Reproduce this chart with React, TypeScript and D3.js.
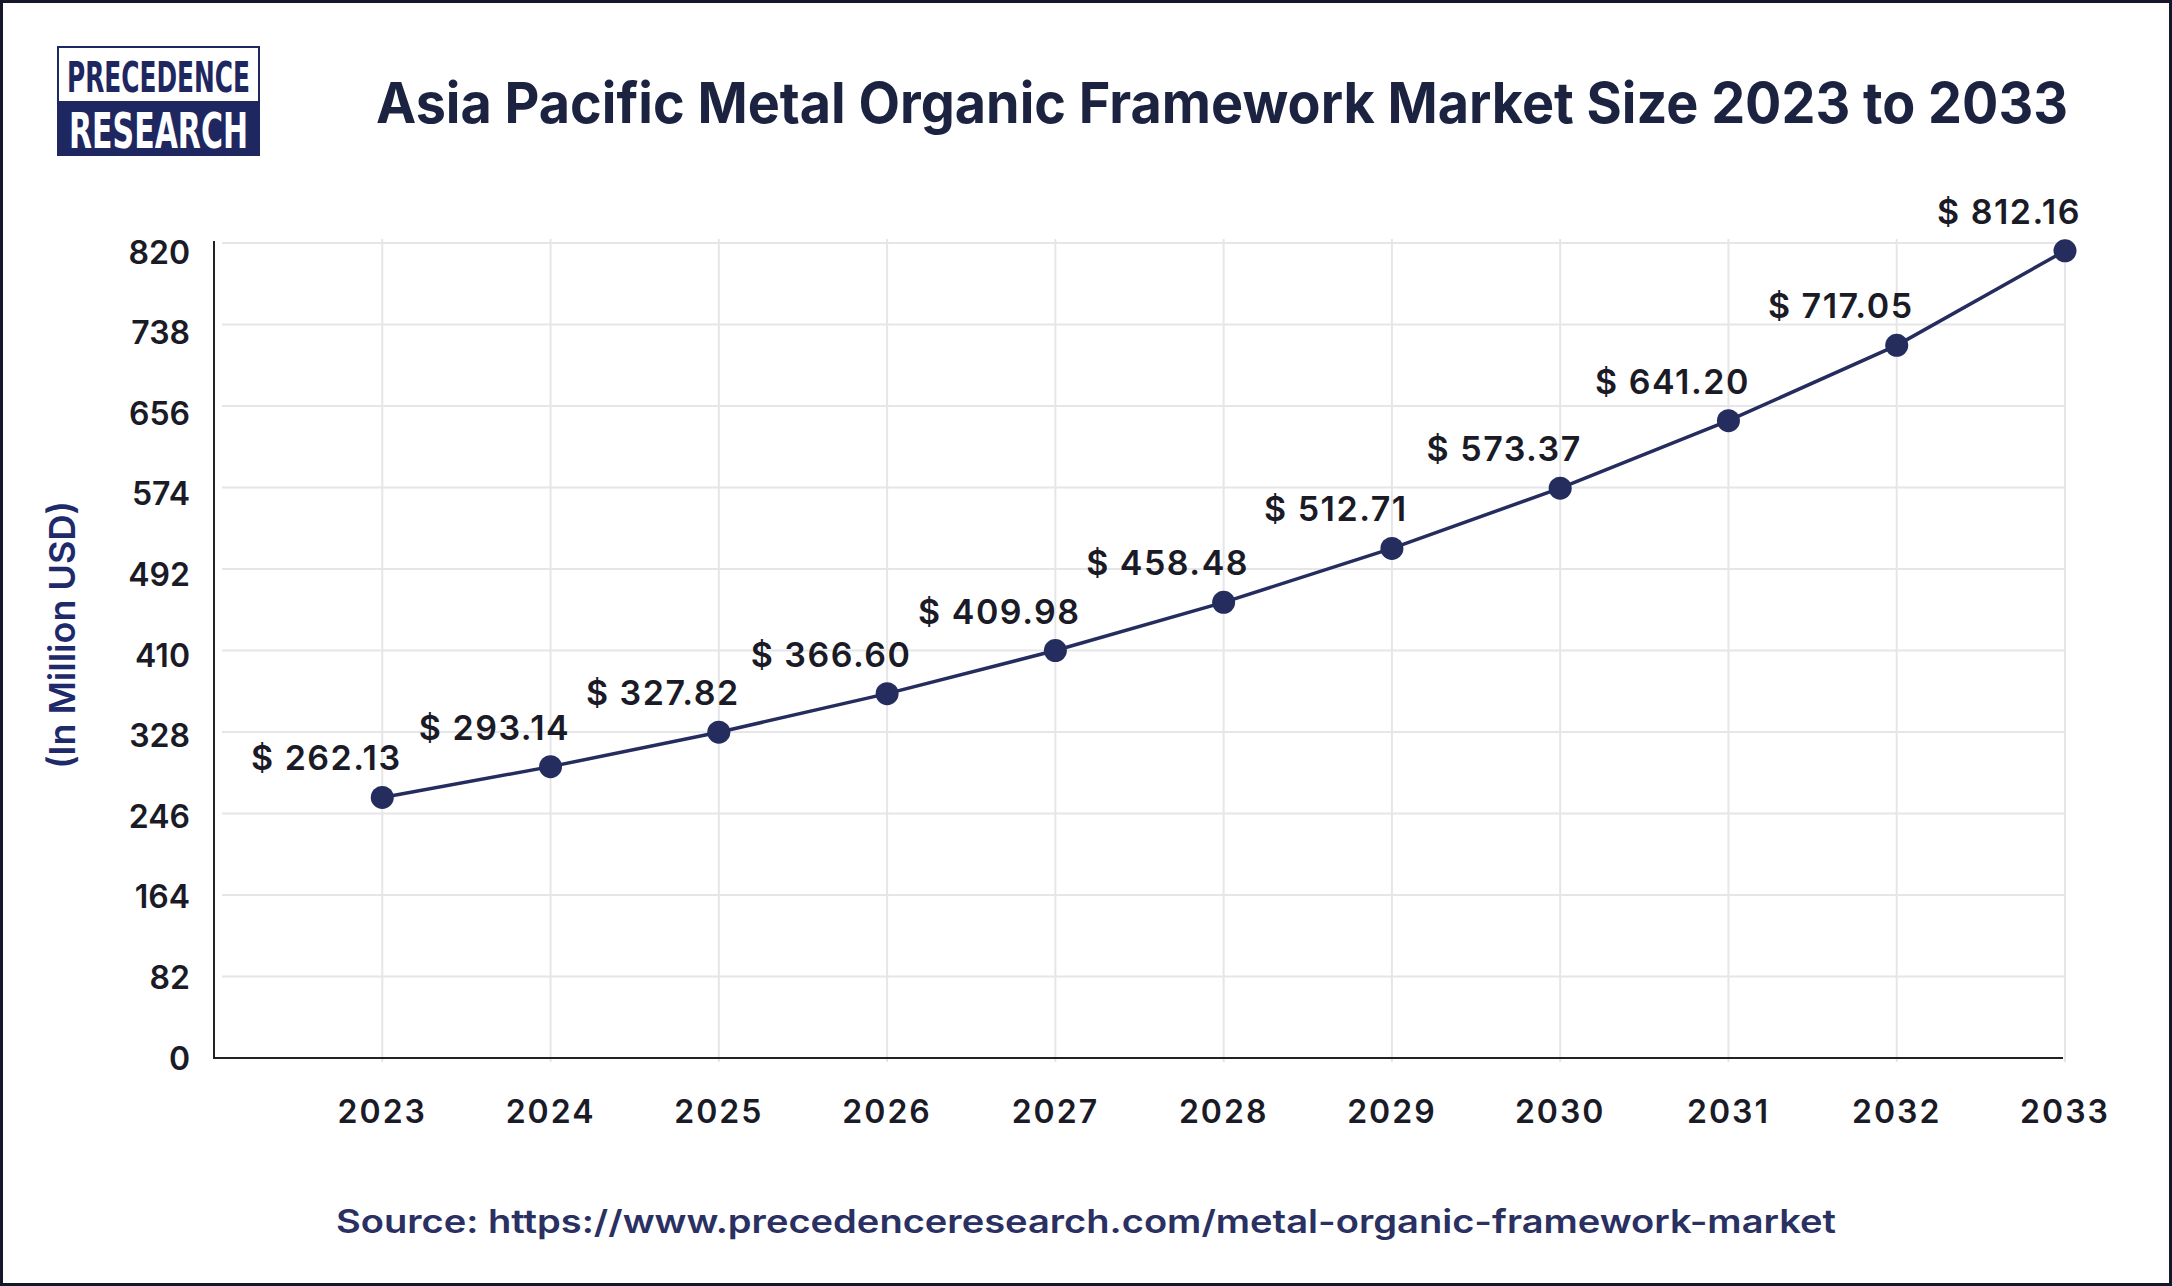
import * as d3 from "d3";

const years = [2023, 2024, 2025, 2026, 2027, 2028, 2029, 2030, 2031, 2032, 2033];
const marketSize = [262.13, 293.14, 327.82, 366.6, 409.98, 458.48, 512.71, 573.37, 641.2, 717.05, 812.16];
const yTicks = [0, 82, 164, 246, 328, 410, 492, 574, 656, 738, 820];

const W = 2172;
const H = 1286;
const FONT = "Inter, 'Noto Sans', sans-serif";
const NAVY = "#252c5e";
const INK = "#1a1b26";
const LOGO_FONT = "'DejaVu Sans Condensed', 'Liberation Sans Narrow', sans-serif";

const App = () => {
  const left = 214; // y axis position
  const right = 2065;
  const top = 243;
  const bottom = 1058;

  // one empty slot before 2023, like the original
  const x = d3.scaleLinear().domain([2022, 2033]).range([left, right]);
  const y = d3.scaleLinear().domain([0, 820]).range([bottom, top]);
  // tick labels sit a touch lower than their gridlines near the top
  const yLabel = d3.scaleLinear().domain([0, 820]).range([bottom, top + 9]);

  const line = d3
    .line<number>()
    .x((_, i) => x(years[i]))
    .y((d) => y(d));

  return (
    <>
      <style>{`body{margin:0}`}</style>
      <svg width={W} height={H} style={{ display: "block", fontFamily: FONT }}>
        <rect x={0} y={0} width={W} height={H} fill="#fff" />
        <rect x={1.5} y={1.5} width={W - 3} height={H - 3} fill="none" stroke="#15172a" strokeWidth={3} />

        {/* logo */}
        <g>
          <rect x={58} y={47} width={201} height={108} fill="#fff" stroke="#1f2761" strokeWidth={2} />
          <rect x={58} y={101} width={201} height={54} fill="#1f2761" />
          <text
            x={67}
            y={92}
            fontSize={42}
            fontWeight={700}
            fill="#1f2761"
            textLength={183}
            lengthAdjust="spacingAndGlyphs"
            style={{ fontFamily: LOGO_FONT }}
          >
            PRECEDENCE
          </text>
          <text
            x={69}
            y={148}
            fontSize={50}
            fontWeight={700}
            fill="#fff"
            textLength={179}
            lengthAdjust="spacingAndGlyphs"
            style={{ fontFamily: LOGO_FONT }}
          >
            RESEARCH
          </text>
        </g>

        {/* title */}
        <text
          x={376}
          y={123}
          fontSize={56}
          fontWeight={700}
          fill="#1c2340"
          textLength={1692}
          lengthAdjust="spacingAndGlyphs"
        >
          Asia Pacific Metal Organic Framework Market Size 2023 to 2033
        </text>

        {/* grid */}
        <g stroke="#e6e6e8" strokeWidth={2}>
          {yTicks.slice(1).map((t) => (
            <line key={"h" + t} x1={left + 8} x2={right} y1={y(t)} y2={y(t)} />
          ))}
          {years.map((yr) => (
            <line key={"v" + yr} x1={x(yr)} x2={x(yr)} y1={top - 4} y2={bottom + 4} />
          ))}
        </g>

        {/* axes */}
        <line x1={left} x2={left} y1={top - 2} y2={bottom + 1} stroke="#222" strokeWidth={2} />
        <line x1={left} x2={right - 2} y1={bottom} y2={bottom} stroke="#222" strokeWidth={2} />

        {/* y tick labels */}
        {yTicks.map((t) => (
          <text
            key={"yt" + t}
            x={190}
            y={yLabel(t)}
            dy="0.36em"
            textAnchor="end"
            fontSize={32}
            fontWeight={600}
            fill={INK}
          >
            {t}
          </text>
        ))}

        {/* x tick labels */}
        {years.map((yr) => (
          <text
            key={"xt" + yr}
            x={x(yr)}
            y={1123}
            textAnchor="middle"
            fontSize={32}
            fontWeight={600}
            fill={INK}
            letterSpacing={2}
          >
            {yr}
          </text>
        ))}

        {/* y axis title */}
        <text
          transform={`translate(75, 635) rotate(-90)`}
          textAnchor="middle"
          fontSize={36}
          fontWeight={600}
          fill="#1f2a6b"
        >
          (In Million USD)
        </text>

        {/* series */}
        <path d={line(marketSize) || ""} fill="none" stroke={NAVY} strokeWidth={3.5} />
        {marketSize.map((v, i) => (
          <circle key={"c" + i} cx={x(years[i])} cy={y(v)} r={11.5} fill={NAVY} />
        ))}
        {marketSize.map((v, i) => (
          <text
            key={"l" + i}
            x={x(years[i]) - 56}
            y={y(v) - 27}
            textAnchor="middle"
            fontSize={34}
            fontWeight={600}
            fill={INK}
            letterSpacing={1.5}
          >
            {"$ " + v.toFixed(2)}
          </text>
        ))}

        {/* source */}
        <text
          x={336}
          y={1233}
          fontSize={32}
          fontWeight={600}
          fill="#2a3162"
          textLength={1500}
          lengthAdjust="spacingAndGlyphs"
        >
          Source: https://www.precedenceresearch.com/metal-organic-framework-market
        </text>
      </svg>
    </>
  );
};

export default App;
